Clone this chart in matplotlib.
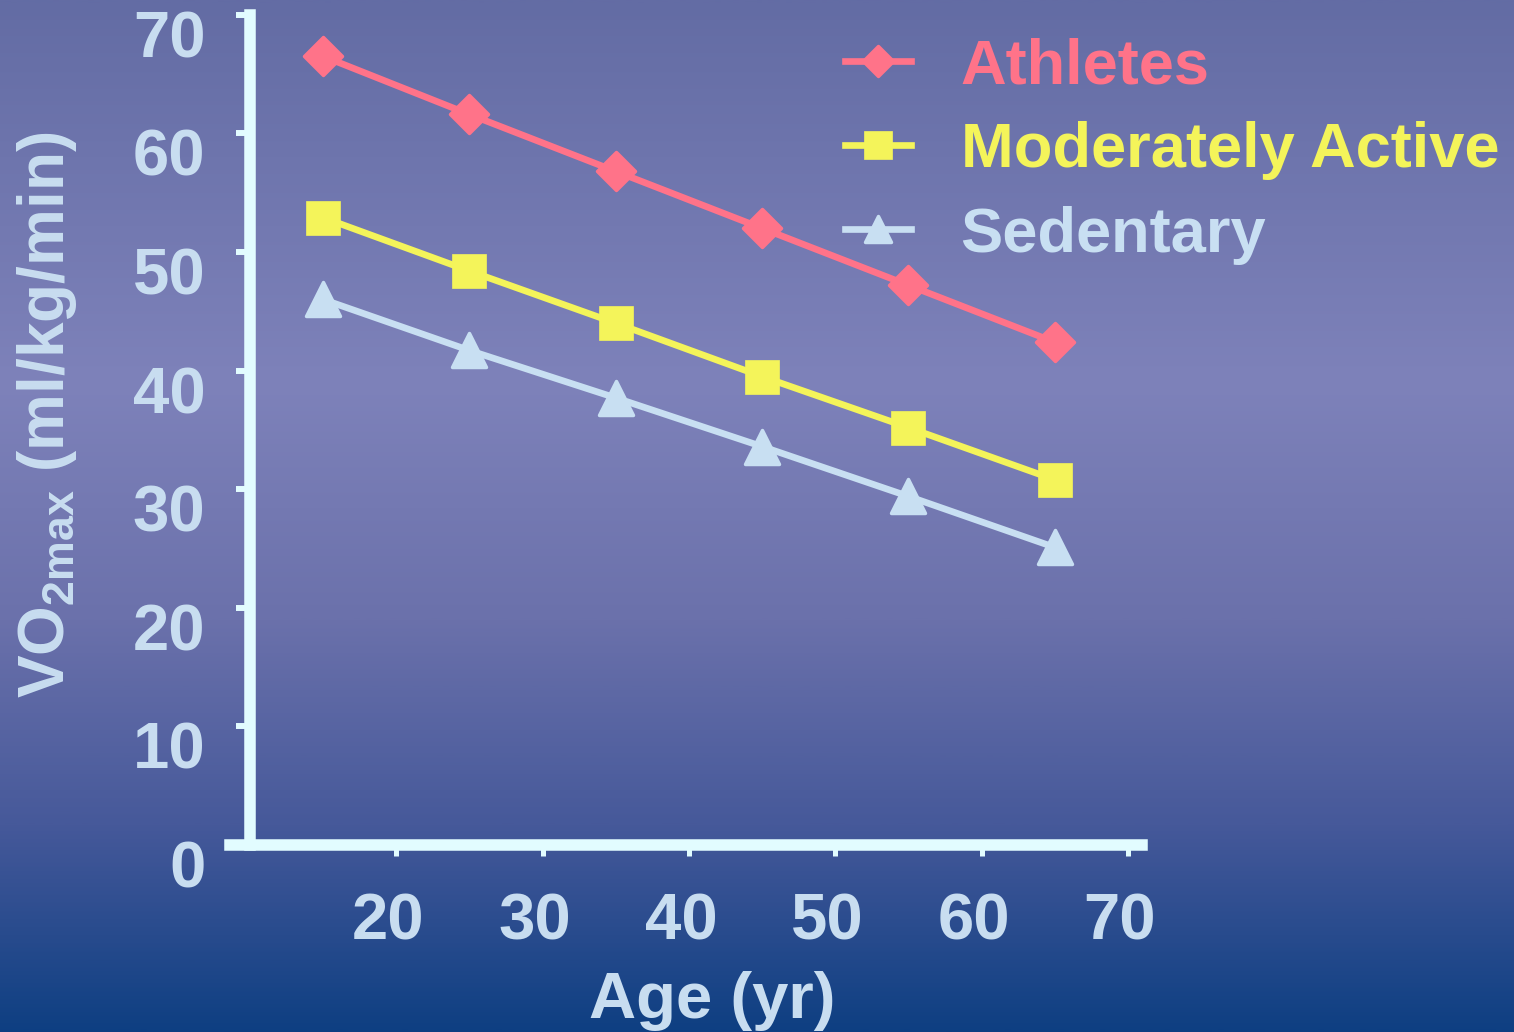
import numpy as np
import matplotlib.pyplot as plt
from matplotlib.markers import MarkerStyle
from matplotlib.transforms import ScaledTranslation
from matplotlib.colors import LinearSegmentedColormap

plt.rcParams['font.family'] = ['Liberation Sans', 'DejaVu Sans']
plt.rcParams['font.weight'] = 'bold'
plt.rcParams['mathtext.fontset'] = 'custom'
plt.rcParams['mathtext.rm'] = 'Liberation Sans:bold'
plt.rcParams['mathtext.it'] = 'Liberation Sans:bold'
plt.rcParams['mathtext.bf'] = 'Liberation Sans:bold'

# VO2max by age group
ages = [15, 25, 35, 45, 55, 65]
athletes = [66.5, 61.6, 56.8, 52.0, 47.2, 42.4]
moderate = [52.9, 48.4, 44.0, 39.5, 35.2, 30.8]
sedentary = [46.0, 41.7, 37.7, 33.6, 29.4, 25.1]

x_ticks = [20, 30, 40, 50, 60, 70]
y_ticks = [0, 10, 20, 30, 40, 50, 60, 70]

pink = '#ff7389'
yellow = '#f4f45a'
pale = '#c8dff2'
axis_col = '#e2fcff'
label_col = '#c8ddf0'

W, H = 1514, 1032
fig = plt.figure(figsize=(W / 100, H / 100), dpi=100)

# slide-style vertical gradient behind everything
bg = fig.add_axes([0, 0, 1, 1], zorder=-10)
stops = [(0.0, '#636ca4'), (0.37, '#7e82ba'), (0.6, '#6b71ab'),
         (0.8, '#46599a'), (1.0, '#0e3f82')]
cmap = LinearSegmentedColormap.from_list('slide', stops)
grad = np.linspace(0, 1, 512).reshape(-1, 1)
bg.imshow(grad, cmap=cmap, aspect='auto', extent=[0, 1, 0, 1])
bg.set_axis_off()

# axes placed so x=10 sits at px 250 and y spans 845..15 px
px_x = 14.63
px_y = 11.86
x0, x1 = 8.0, 72.0
y0, y1 = -2.0, 71.0
left = (250 - (10 - x0) * px_x) / W
width = (x1 - x0) * px_x / W
bottom = 1 - (845 + (0 - y0) * px_y) / H
height = (y1 - y0) * px_y / H
ax = fig.add_axes([left, bottom, width, height])
ax.patch.set_alpha(0)
ax.set_xlim(x0, x1)
ax.set_ylim(y0, y1)

series = [
    ('Athletes', athletes, pink, pink, 'D', 19),
    ('Moderately Active', moderate, yellow, yellow, 's', 25),
    ('Sedentary', sedentary, pale, pale, '^', 24),
]
handles = []
for name, vals, lc, mc, mk, ms in series:
    h, = ax.plot(ages, vals, color=lc, lw=4.8,
                 marker=MarkerStyle(mk, joinstyle='round' if mk != 's' else 'miter'),
                 ms=ms, mfc=mc, mec=mc, mew=2.5 if mk != 's' else 0.5,
                 label=name, zorder=3, clip_on=False)
    handles.append(h)

for s in ['top', 'right']:
    ax.spines[s].set_visible(False)
ax.spines['left'].set_position(('data', 10))
ax.spines['left'].set_bounds(0, 70)
ax.spines['bottom'].set_position(('data', 0))
ax.spines['bottom'].set_bounds(8.6, 70.97)
for s in ['left', 'bottom']:
    ax.spines[s].set_color(axis_col)
    ax.spines[s].set_linewidth(8.3)

ax.set_xticks(x_ticks)
ax.set_yticks(y_ticks)
ax.tick_params(axis='y', direction='out', length=10, width=4.3, color=axis_col,
               labelsize=47, labelcolor=label_col, pad=22)
ax.tick_params(axis='x', direction='out', length=8, width=3.6, color=axis_col,
               labelsize=47, labelcolor=label_col, pad=26)
for lab in ax.get_yticklabels():
    lab.set_transform(lab.get_transform() + ScaledTranslation(0, -0.19, fig.dpi_scale_trans))
for lab in ax.get_xticklabels():
    lab.set_transform(lab.get_transform() + ScaledTranslation(-0.08, 0, fig.dpi_scale_trans))

fig.text(712 / W, 1 - 1018 / H, 'Age (yr)', ha='center', va='baseline',
         fontsize=47, color=label_col)
fig.text(64 / W, 1 - 415 / H, r'VO$_{\mathrm{2max}}$ (ml/kg/min)', rotation=90,
         ha='center', va='baseline', rotation_mode='anchor', fontsize=46,
         color=label_col)

leg = ax.legend(handles=handles, loc='upper left',
                bbox_to_anchor=(845 / W, 1 - 37 / H), bbox_transform=fig.transFigure,
                frameon=False, fontsize=45.5, handlelength=1.05, handletextpad=0.78,
                labelspacing=0.40, markerscale=0.78, borderpad=0, borderaxespad=0)
for txt, (_, _, lc, _, _, _) in zip(leg.get_texts(), series):
    txt.set_color(lc)

fig.savefig('out.png', dpi=100)
